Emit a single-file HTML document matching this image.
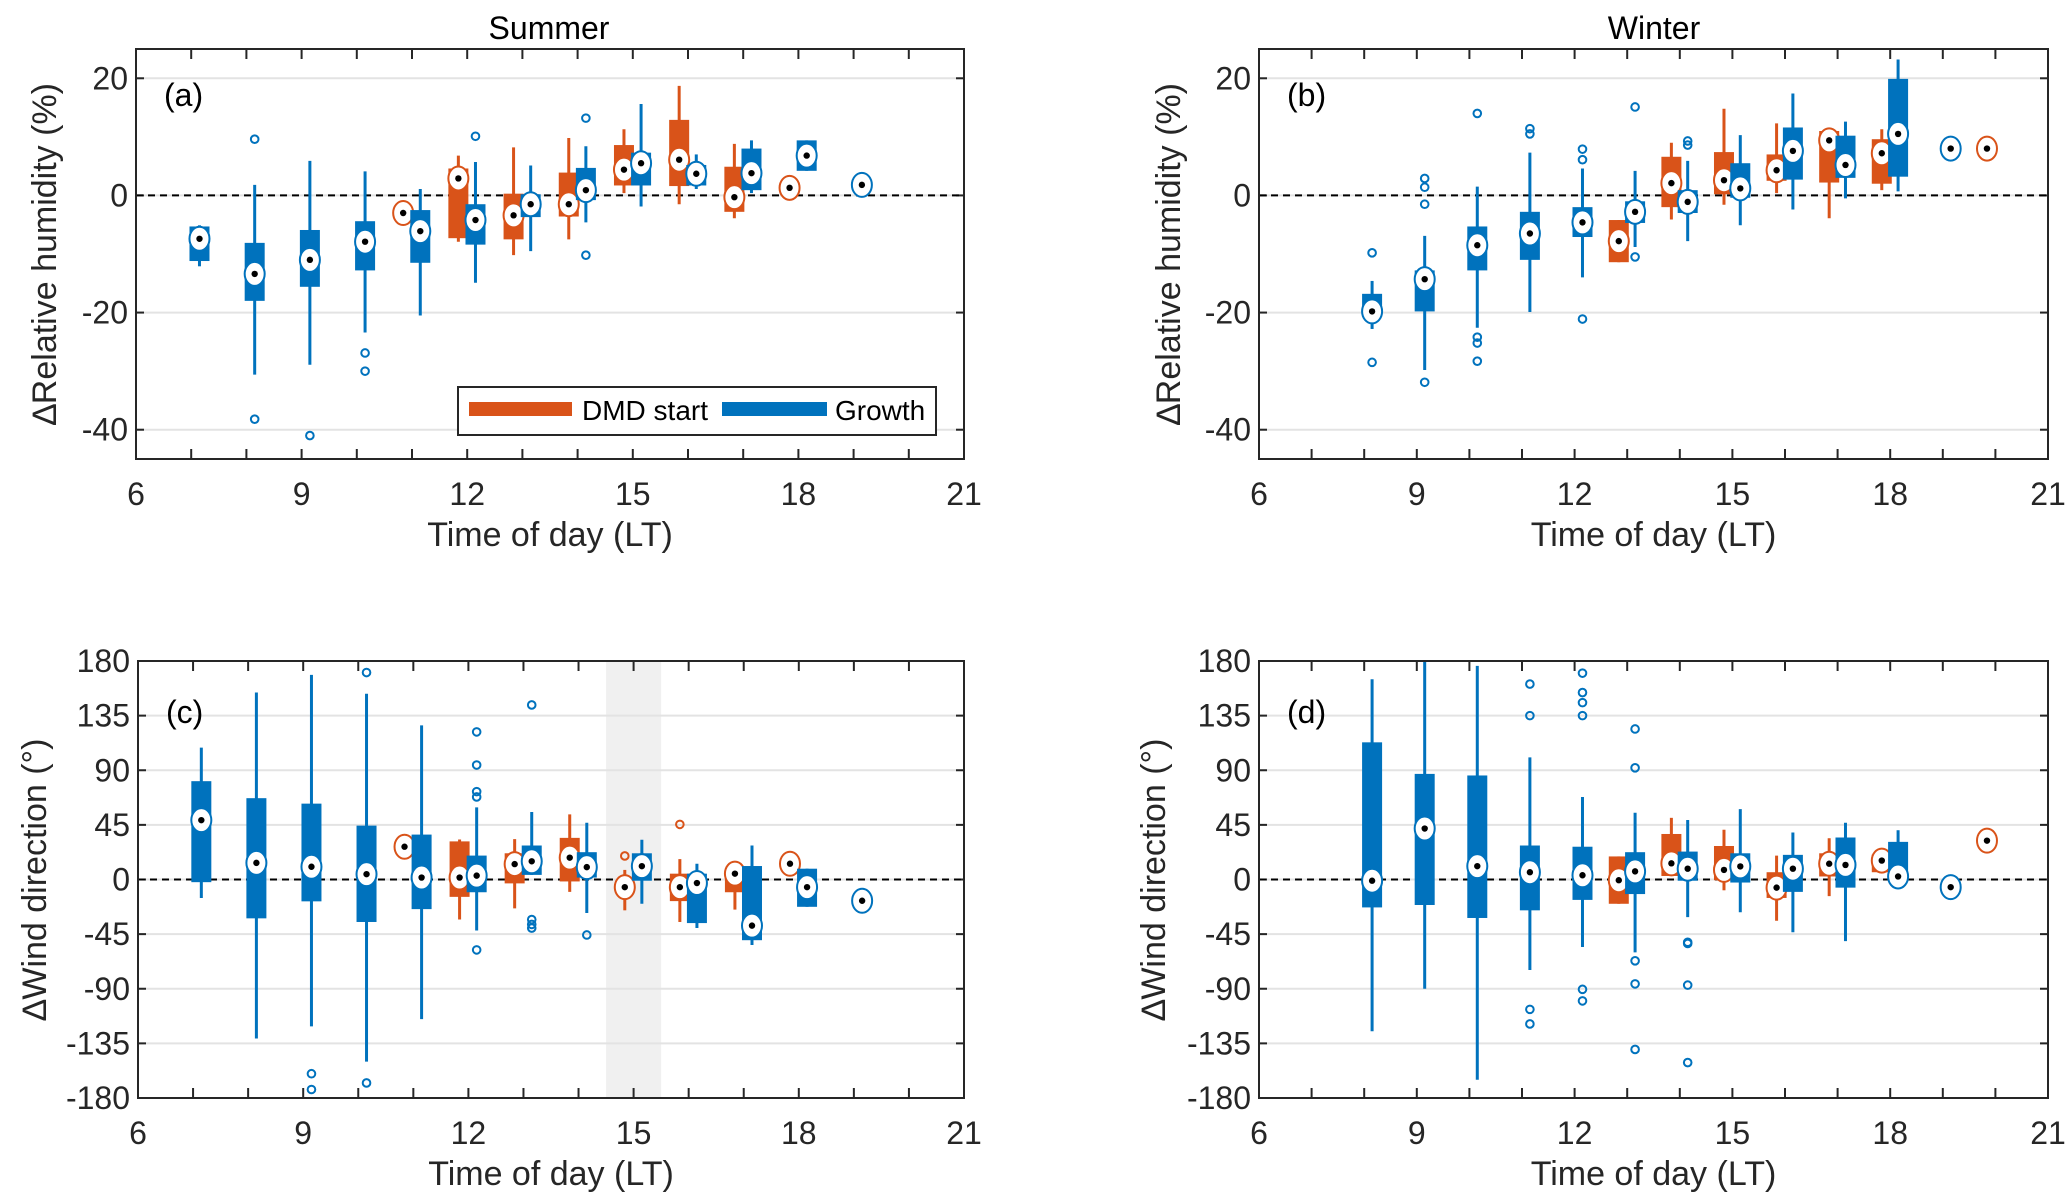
<!DOCTYPE html>
<html><head><meta charset="utf-8">
<style>
html,body{margin:0;padding:0;background:#fff;}
svg{display:block;font-family:"Liberation Sans",Arial,sans-serif;}
</style></head>
<body>
<svg id="fig" width="2067" height="1197" viewBox="0 0 2067 1197" xmlns="http://www.w3.org/2000/svg">
<text x="549" y="39" font-size="32" text-anchor="middle">Summer</text>
<text x="1654" y="39" font-size="32" text-anchor="middle">Winter</text>
</svg>
<script>
// ---- Panel (a) Summer RH ----
const aHour=[7,8,9,10,11,11,12,12,13,13,14,14,15,15,16,16,17,17,18,18,19];
const aGroup=['b','b','b','b','o','b','o','b','o','b','o','b','o','b','o','b','o','b','o','b','b'];
const aQ1=[-11.2,-18,-15.6,-12.8,-3,-11.5,-7.3,-8.4,-7.5,-3.7,-3.6,-0.8,1.7,1.7,1.6,1.7,-2.8,0.9,1.3,4.2,1.8];
const aQ3=[-5.3,-8.1,-5.9,-4.4,-3,-2.5,4.6,-1.5,0.3,0.2,3.9,4.7,8.6,7.3,12.9,5.2,4.9,8,1.3,9.4,1.8];
const aMed=[-7.4,-13.4,-11,-7.9,-3,-6.1,2.9,-4.2,-3.4,-1.5,-1.5,0.9,4.4,5.5,6.1,3.7,-0.3,3.8,1.3,6.8,1.8];
const aLo=[-12.1,-30.6,-28.9,-23.4,-3,-20.5,-7.9,-14.9,-10.2,-9.5,-7.5,-4.6,0.4,-1.9,-1.5,1.1,-3.9,0.4,1.3,4.2,1.8];
const aHi=[-5.1,1.8,5.9,4.1,-3,1.1,6.8,5.7,8.2,5.1,9.8,8.4,11.3,15.6,18.7,7,8.8,9.4,1.3,9.4,1.8];
const aOut=[[],[9.6,-38.2],[-41],[-26.9,-30],[],[],[],[10.1],[],[],[],[13.2,-10.2],[],[],[],[],[],[],[],[],[]];
// ---- Panel (b) Winter RH ----
const bHour=[8,9,10,11,12,13,13,14,14,15,15,16,16,17,17,18,18,19,20];
const bGroup=['b','b','b','b','b','o','b','o','b','o','b','o','b','o','b','o','b','b','o'];
const bQ1=[-20,-19.8,-12.8,-11,-7.1,-11.4,-4.7,-2,-3,0.2,-0.4,2.5,2.7,2.2,3,2,3.2,8,8];
const bQ3=[-16.8,-12.8,-5.3,-2.8,-2,-4.2,-1,6.6,0.9,7.4,5.5,7,11.6,11,10.2,9.6,19.9,8,8];
const bMed=[-19.8,-14.3,-8.5,-6.5,-4.6,-7.8,-2.8,2.1,-1.1,2.6,1.2,4.3,7.6,9.4,5.2,7.2,10.5,8,8];
const bLo=[-22.8,-29.8,-22.6,-19.9,-14,-11.4,-8.8,-4.1,-7.8,-1.6,-5.1,0.4,-2.4,-3.9,-0.5,0.9,0.7,8,8];
const bHi=[-14.6,-6.9,1.5,7.3,4.6,-4.2,4.2,9,5.9,14.8,10.3,12.3,17.4,11.4,12.6,11.3,23.2,8,8];
const bOut=[[-9.8,-28.5],[2.9,1.4,-1.5,-31.9],[14,-24.2,-25.2,-28.3],[10.5,11.4],[7.9,6.1,-21.1],[],[15.1,-10.5],[],[9.3,8.6],[],[],[],[],[],[],[],[],[],[]];
// ---- Panel (c) Summer wind ----
const cHour=[7,8,9,10,11,11,12,12,13,13,14,14,15,15,16,16,17,17,18,18,19];
const cGroup=['b','b','b','b','o','b','o','b','o','b','o','b','o','b','o','b','o','b','o','b','b'];
const cQ1=[-2.2,-32,-18,-35,27,-24.4,-14.3,-10.5,-3.2,3.8,-1.6,1.6,-6.3,-1,-17.8,-35.9,-10.5,-50,13,-22.5,-17.5];
const cQ3=[81,67,62.5,44.4,27,37,31.4,19.7,21.6,28,34.3,22.5,-6.3,21.6,4.8,4.8,7.9,11.1,13,8.9,-17.5];
const cMed=[48.9,13.7,10.5,4.4,27,1.6,1.6,3.2,12.7,15,18,10.2,-6.3,11,-6.3,-2.9,4.8,-38,13,-6.3,-17.5];
const cLo=[-15.2,-131,-121,-150,27,-115,-33,-42,-23.8,3.8,-10.2,-27.6,-25.4,-20,-35,-40,-24.8,-54,13,-22.5,-17.5];
const cHi=[108.6,154,168.6,153,27,127,33,59.4,33.3,55.6,53.7,46.7,7.9,32.7,16.8,13,13.7,28,13,8.9,-17.5];
const cOut=[[],[],[-160,-173],[170.5,-167.6],[],[],[],[121.6,94.3,72.4,68,-58],[],[143.8,-33,-37,-40],[],[-45.7],[19.4],[],[45.4],[],[],[],[],[],[]];
// ---- Panel (d) Winter wind ----
const dHour=[8,9,10,11,12,13,13,14,14,15,15,16,16,17,17,18,18,19,20];
const dGroup=['b','b','b','b','b','o','b','o','b','o','b','o','b','o','b','o','b','b','o'];
const dQ1=[-23,-21,-31.7,-25.4,-16.8,-20,-12,2.9,-1,-0.6,-2.5,-15.2,-10.2,2.5,-6.7,6,1.6,-6.3,32];
const dQ3=[113,87,85.7,28,27,19,22.5,37.5,23,27.6,21.6,6,20.3,21.6,34.6,20.6,31,-6.3,32];
const dMed=[-1,42,11,6,3.5,-0.6,6.7,13.3,8.9,7.9,10.8,-6.7,8.9,13,12,15.6,2.5,-6.3,32];
const dLo=[-125,-90,-165,-74.6,-55.6,-20,-60,2.9,-31,-8.9,-27,-34,-43.5,-13.7,-50.8,6,1.6,-6.3,32];
const dHi=[165,180,176,100.6,68,19,55,50.8,49,41,58,19.7,38.7,34,46.7,20.6,40.6,-6.3,32];
const dOut=[[],[],[],[161,135,-107,-119],[170,154,145.7,135,-90.5,-100],[],[124,92,-67,-86,-140],[],[-51.7,-52.7,-87,-150.8],[],[],[],[],[],[],[],[],[],[]];
const xTickLabels=[6,9,12,15,18,21];
const rhTicks=[-40,-20,0,20];
const wdTicks=[-180,-135,-90,-45,0,45,90,135,180];

const NS='http://www.w3.org/2000/svg';
const svg=document.getElementById('fig');
const COL={o:'#D95319',b:'#0072BD'};
function mk(tag,attrs,parent){const e=document.createElementNS(NS,tag);for(const k in attrs)e.setAttribute(k,attrs[k]);(parent||svg).appendChild(e);return e;}

function panel(cfg,hour,grp,q1,q3,med,lo,hi,out){
  const g=mk('g',{});
  
  
  const xs=h=>cfg.x0+(h-6)/15*(cfg.x1-cfg.x0);
  const ys=v=>cfg.y1-(v-cfg.ylo)/(cfg.yhi-cfg.ylo)*(cfg.y1-cfg.y0);
  if(cfg.shade){const r=mk('rect',{x:xs(cfg.shade[0]),y:cfg.y0,width:xs(cfg.shade[1])-xs(cfg.shade[0]),height:cfg.y1-cfg.y0,fill:'#f0f0f0'},g);
    
    }
  cfg.yticks.forEach(t=>{
    const gl=mk('line',{x1:cfg.x0,x2:cfg.x1,y1:ys(t),y2:ys(t),stroke:'#e3e3e3','stroke-width':2},g);
    
    
    mk('line',{x1:cfg.x0,x2:cfg.x0+8,y1:ys(t),y2:ys(t),stroke:'#262626','stroke-width':2},g);
    mk('line',{x1:cfg.x1,x2:cfg.x1-8,y1:ys(t),y2:ys(t),stroke:'#262626','stroke-width':2},g);
    const tl=mk('text',{x:cfg.x0-8,y:ys(t)+11,'font-size':32,'text-anchor':'end',fill:'#262626'},g);
    tl.textContent=t;
    
    
  });
  for(let h=6;h<=21;h++){
    mk('line',{x1:xs(h),x2:xs(h),y1:cfg.y0,y2:cfg.y0+10,stroke:'#262626','stroke-width':2},g);
    mk('line',{x1:xs(h),x2:xs(h),y1:cfg.y1,y2:cfg.y1-10,stroke:'#262626','stroke-width':2},g);
  }
  xTickLabels.forEach(t=>{
    const tl=mk('text',{x:xs(t),y:cfg.y1+46,'font-size':32,'text-anchor':'middle',fill:'#262626'},g);
    tl.textContent=t;
    
    
  });
  const zl=mk('line',{x1:cfg.x0,x2:cfg.x1,y1:ys(0),y2:ys(0),stroke:'#000','stroke-width':2,'stroke-dasharray':'7,5'},g);
  
  
  const bw=20;
  for(let i=0;i<hour.length;i++){
    const c=COL[grp[i]];
    const x=xs(hour[i]+(grp[i]==='o'?-0.16:0.15));
    const bg=mk('g',{},g);
    
    
    if(hi[i]>lo[i]) mk('line',{x1:x,x2:x,y1:ys(lo[i]),y2:ys(hi[i]),stroke:c,'stroke-width':3},bg);
    if(q3[i]>q1[i]) mk('rect',{x:x-bw/2,y:ys(q3[i]),width:bw,height:ys(q1[i])-ys(q3[i]),fill:c},bg);
    out[i].forEach(v=>{mk('circle',{cx:x,cy:ys(v),r:3.8,fill:'none',stroke:c,'stroke-width':2},bg);});
    mk('ellipse',{cx:x,cy:ys(med[i]),rx:10,ry:12,fill:'#fff',stroke:c,'stroke-width':2},bg);
    mk('circle',{cx:x,cy:ys(med[i]),r:3.2,fill:'#000'},bg);
  }
  const fr=mk('rect',{x:cfg.x0,y:cfg.y0,width:cfg.x1-cfg.x0,height:cfg.y1-cfg.y0,fill:'none',stroke:'#262626','stroke-width':2},g);
  
  
  const pl=mk('text',{x:cfg.x0+28,y:cfg.y0+(cfg.plY||57),'font-size':32,fill:'#000'},g);
  pl.textContent=cfg.letter;
  
  
  const xl=mk('text',{x:(cfg.x0+cfg.x1)/2,y:cfg.y1+87,'font-size':34,'text-anchor':'middle',fill:'#262626'},g);
  xl.textContent='Time of day (LT)';
  
  
  const yc=(cfg.y0+cfg.y1)/2;
  const yl=mk('text',{x:cfg.ylx,y:yc,'font-size':34,'text-anchor':'middle',fill:'#262626',transform:'rotate(-90 '+cfg.ylx+' '+yc+')'},g);
  yl.textContent=cfg.ylabel;
  
  
}
panel({name:'panel-a',letter:'(a)',x0:136,x1:964,y0:49,y1:459,ylo:-45,yhi:25,yticks:rhTicks,ylx:56,ylabel:'∆Relative humidity (%)'},aHour,aGroup,aQ1,aQ3,aMed,aLo,aHi,aOut);
panel({name:'panel-b',letter:'(b)',x0:1259,x1:2048,y0:49,y1:459,ylo:-45,yhi:25,yticks:rhTicks,ylx:1180,ylabel:'∆Relative humidity (%)'},bHour,bGroup,bQ1,bQ3,bMed,bLo,bHi,bOut);
panel({name:'panel-c',letter:'(c)',x0:138,x1:964,y0:661,y1:1098,ylo:-180,yhi:180,yticks:wdTicks,ylx:46,plY:62,ylabel:'∆Wind direction (°)',shade:[14.5,15.5]},cHour,cGroup,cQ1,cQ3,cMed,cLo,cHi,cOut);
panel({name:'panel-d',letter:'(d)',x0:1259,x1:2048,y0:661,y1:1098,ylo:-180,yhi:180,yticks:wdTicks,ylx:1165,plY:62,ylabel:'∆Wind direction (°)'},dHour,dGroup,dQ1,dQ3,dMed,dLo,dHi,dOut);

// legend in panel a
const lg=mk('g',{});


mk('rect',{x:458,y:387,width:478,height:48,fill:'#fff',stroke:'#262626','stroke-width':2},lg);
mk('rect',{x:469,y:402,width:103,height:14,fill:COL.o},lg);
const t1=mk('text',{x:582,y:420,'font-size':28,fill:'#000'},lg);t1.textContent='DMD start';


mk('rect',{x:722,y:402,width:105,height:14,fill:COL.b},lg);
const t2=mk('text',{x:835,y:420,'font-size':28,fill:'#000'},lg);t2.textContent='Growth';


</script>
</body></html>
